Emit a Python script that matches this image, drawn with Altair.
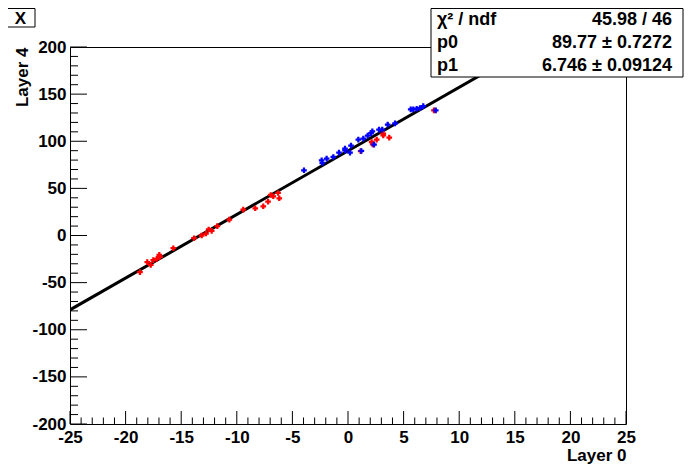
import altair as alt
import pandas as pd

# ---- data ----
red_x = [-18.71, -18.05, -17.74, -17.51, -17.20, -16.97, -16.91, -15.71, -13.85, -13.16,
         -12.77, -12.53, -12.26, -11.75, -10.67, -9.42, -8.34, -7.62, -7.19, -6.95,
         -6.72, -6.29, -6.18, 1.14, 2.13, 2.22, 2.58, 3.17, 3.17, 3.71, 7.73]
red_y = [-38.9, -28.3, -31.1, -26.2, -24.8, -20.6, -22.7, -13.5, -2.9, 0.0,
         2.1, 6.4, 4.9, 9.9, 16.9, 27.5, 28.9, 31.0, 36.0, 43.0,
         41.6, 45.1, 39.5, 89.6, 99.2, 96.7, 101.7, 106.3, 108.1, 103.8, 132.7]
blue_x = [-3.96, -2.37, -2.31, -1.92, -1.32, -0.81, -0.27, -0.27, 0.18, 0.27,
          0.93, 1.38, 1.77, 2.07, 2.19, 2.34, 2.79, 3.08, 3.57, 4.23,
          5.64, 5.87, 6.18, 6.47, 6.77, 7.89, 1.20]
blue_y = [69.2, 79.8, 76.9, 81.6, 83.3, 87.9, 92.2, 90.4, 87.9, 95.3,
          101.7, 102.8, 105.9, 108.7, 110.5, 96.4, 112.3, 112.3, 117.6, 119.0,
          133.8, 133.8, 134.5, 135.2, 137.3, 132.7, 89.7]

x_ticks = list(range(-25, 26, 5))
y_ticks = list(range(-200, 201, 50))
x_minor = [v for v in range(-25, 26) if v % 5 != 0]
y_minor = [v for v in range(-200, 201, 10) if v % 50 != 0]

stat_labels = ["χ² / ndf", "p0", "p1"]
stat_values = ["45.98 / 46", "89.77 ± 0.7272", "6.746 ± 0.09124"]
p0, p1 = 89.77, 6.746
fit_x = [-25, 25]
title_text = "X"
x_title = "Layer 0"
y_title = "Layer 4"

# ---- layout ----
W, H = 556, 377
FONT = "Liberation Sans"

xs = alt.Scale(domain=[-25, 25], nice=False, zero=False)
ys = alt.Scale(domain=[-200, 200], nice=False, zero=False)

pts = pd.DataFrame({
    "x": red_x + blue_x,
    "y": red_y + blue_y,
    "s": ["r"] * len(red_x) + ["b"] * len(blue_x),
})

base_x = alt.X("x:Q", scale=xs, axis=alt.Axis(
    values=x_ticks, title=x_title, titleX=W, titleY=23, titleAlign="right",
    titleBaseline="top", labelPadding=5, labelExpr="'' + datum.value",
    labelFlush=False, labelOverlap=False))
base_y = alt.Y("y:Q", scale=ys, axis=alt.Axis(
    values=y_ticks, title=y_title, titleX=-43, titleY=0, titleAlign="right",
    titleAngle=-90, titleBaseline="alphabetic", labelPadding=4,
    labelExpr="'' + datum.value", labelBaseline="middle",
    labelFlush=False, labelOverlap=False))

fit = alt.Chart(pd.DataFrame({"x": fit_x})).transform_calculate(
    y=f"{p0} + {p1} * datum.x"
).mark_line(color="black", strokeWidth=3, clip=True).encode(x=base_x, y=base_y)

points = alt.Chart(pts).mark_point(shape="cross", filled=True, size=32, opacity=1, strokeWidth=0).encode(
    x=alt.X("x:Q", scale=xs),
    y=alt.Y("y:Q", scale=ys),
    color=alt.Color("s:N", scale=alt.Scale(domain=["r", "b"], range=["#ff0000", "#0000ff"]), legend=None),
)

xmaj = alt.Chart(pd.DataFrame({"x": x_ticks})).mark_rule(color="black", strokeWidth=1).encode(
    x=alt.X("x:Q", scale=xs), y=alt.value(H), y2=alt.value(H - 13))
xmin = alt.Chart(pd.DataFrame({"x": x_minor})).mark_rule(color="black", strokeWidth=1).encode(
    x=alt.X("x:Q", scale=xs), y=alt.value(H), y2=alt.value(H - 6.5))
ymaj = alt.Chart(pd.DataFrame({"y": y_ticks})).mark_rule(color="black", strokeWidth=1).encode(
    y=alt.Y("y:Q", scale=ys), x=alt.value(0), x2=alt.value(17))
ymin = alt.Chart(pd.DataFrame({"y": y_minor})).mark_rule(color="black", strokeWidth=1).encode(
    y=alt.Y("y:Q", scale=ys), x=alt.value(0), x2=alt.value(8))

# stats box
box = alt.Chart(pd.DataFrame({"a": [0]})).mark_rect(
    fill="white", stroke="black", strokeWidth=1, clip=False).encode(
    x=alt.value(361), x2=alt.value(613), y=alt.value(-38.5), y2=alt.value(30))

row_y = [-27, -4, 19]
stat_layers = []
for lab, val, yy in zip(stat_labels, stat_values, row_y):
    stat_layers.append(alt.Chart(pd.DataFrame({"t": [lab]})).mark_text(
        font=FONT, fontSize=18, fontWeight="bold", align="left", baseline="middle",
        color="black", clip=False).encode(text="t:N", x=alt.value(367), y=alt.value(yy)))
    stat_layers.append(alt.Chart(pd.DataFrame({"t": [val]})).mark_text(
        font=FONT, fontSize=18, fontWeight="bold", align="right", baseline="middle",
        color="black", clip=False).encode(text="t:N", x=alt.value(602), y=alt.value(yy)))

tbox = alt.Chart(pd.DataFrame({"a": [0]})).mark_rect(
    fill="white", stroke="black", strokeWidth=1, clip=False).encode(
    x=alt.value(-64), x2=alt.value(-35), y=alt.value(-38.5), y2=alt.value(-20))
ttext = alt.Chart(pd.DataFrame({"t": [title_text]})).mark_text(
    font=FONT, fontSize=17, fontWeight="bold", align="center", baseline="middle",
    color="black", clip=False).encode(text="t:N", x=alt.value(-49.5), y=alt.value(-28.5))

chart = alt.layer(fit, points, xmaj, xmin, ymaj, ymin, box, *stat_layers, tbox, ttext).properties(
    width=W, height=H,
    autosize=alt.AutoSizeParams(type="none"),
    padding={"left": 62, "top": 39, "right": 62, "bottom": 40},
    background="white",
).configure_view(
    stroke="black", strokeWidth=1
).configure_axis(
    domain=False, ticks=False, grid=False,
    labelFont=FONT, labelFontSize=17, labelFontWeight="bold", labelColor="black",
    titleFont=FONT, titleFontSize=17, titleFontWeight="bold", titleColor="black",
)

chart.save("out.html", embed_options={"renderer": "svg", "actions": False})
